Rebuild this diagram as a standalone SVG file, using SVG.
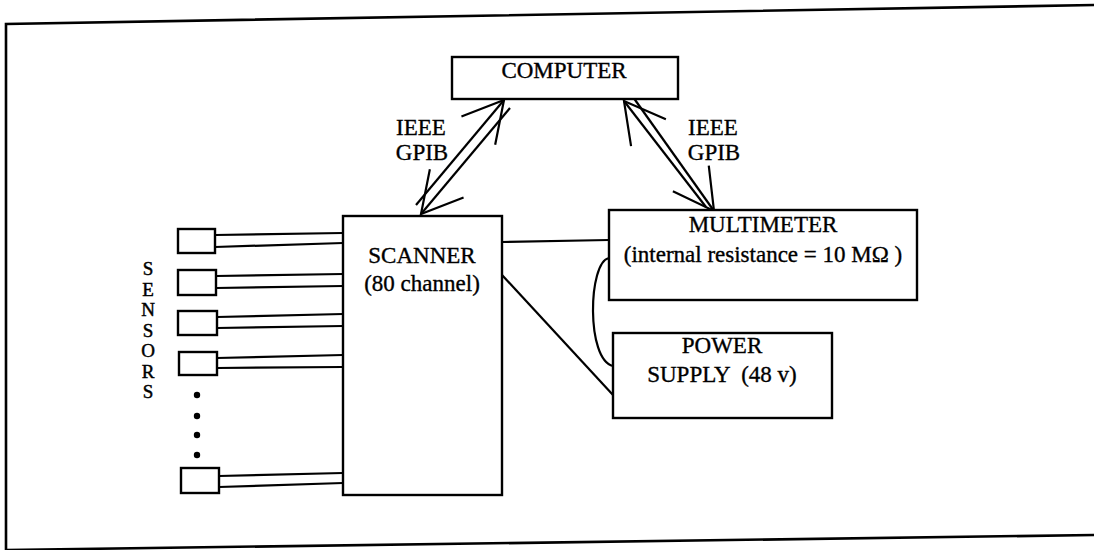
<svg xmlns="http://www.w3.org/2000/svg" width="1094" height="550" viewBox="0 0 1094 550">
<style>
.box{fill:#fff;stroke:#000;stroke-width:2.4}
.ln{fill:none;stroke:#000;stroke-width:2.2}
.frame{fill:none;stroke:#000;stroke-width:2.6}
.t{font-family:"Liberation Serif","Times New Roman",serif;font-size:23px;fill:#000;stroke:#000;stroke-width:0.35;text-anchor:middle}
.s{font-family:"Liberation Serif","Times New Roman",serif;font-size:19px;fill:#000;stroke:#000;stroke-width:0.45;text-anchor:middle}
</style>
<defs>
<marker id="ah" markerUnits="userSpaceOnUse" viewBox="-50 -30 60 60" refX="0" refY="0" markerWidth="60" markerHeight="60" orient="auto" overflow="visible">
<path d="M-40,-22 L0,0 L-40,22" fill="none" stroke="#000" stroke-width="2.2"/>
</marker>
</defs>
<rect width="1094" height="550" fill="#fff"/>
<g id="frame">
<polyline class="frame" points="1094,5 6,24 6,550"/>
<line class="frame" x1="6" y1="550" x2="1094" y2="535"/>
</g>
<g id="connectors">
<line class="ln" x1="416" y1="205" x2="504" y2="100" marker-end="url(#ah)"/>
<line class="ln" x1="510" y1="108" x2="421" y2="214" marker-end="url(#ah)"/>
<line class="ln" x1="706" y1="207" x2="624" y2="101" marker-end="url(#ah)"/>
<line class="ln" x1="633" y1="97" x2="714" y2="211" marker-end="url(#ah)"/>
<line class="ln" x1="502" y1="242" x2="609" y2="240"/>
<line class="ln" x1="502" y1="275" x2="613" y2="395"/>
<path class="ln" d="M609,258 C588,262 586,360 613,366"/>
<line class="ln" x1="215" y1="235" x2="343" y2="233"/>
<line class="ln" x1="215" y1="247" x2="343" y2="243"/>
<line class="ln" x1="216" y1="276" x2="343" y2="274"/>
<line class="ln" x1="216" y1="288" x2="343" y2="286"/>
<line class="ln" x1="217" y1="317" x2="343" y2="314"/>
<line class="ln" x1="217" y1="328" x2="343" y2="326"/>
<line class="ln" x1="217" y1="358" x2="343" y2="355"/>
<line class="ln" x1="217" y1="368" x2="343" y2="367"/>
<line class="ln" x1="219" y1="476" x2="343" y2="473"/>
<line class="ln" x1="219" y1="487" x2="343" y2="483"/>
</g>
<g id="labels">
<text class="t" x="421" y="135">IEEE</text>
<text class="t" x="422" y="160">GPIB</text>
<text class="t" x="713" y="135">IEEE</text>
<text class="t" x="714" y="160">GPIB</text>
</g>
<g id="computer">
<rect class="box" x="452" y="57" width="226" height="42"/>
<text class="t" x="564" y="78">COMPUTER</text>
</g>
<g id="scanner">
<rect class="box" x="343" y="216" width="159" height="279"/>
<text class="t" x="422" y="263">SCANNER</text>
<text class="t" x="422" y="291">(80 channel)</text>
</g>
<g id="multimeter">
<rect class="box" x="609" y="210" width="308" height="90"/>
<text class="t" x="763" y="232">MULTIMETER</text>
<text class="t" x="763" y="262">(internal resistance = 10 MΩ )</text>
</g>
<g id="power">
<rect class="box" x="613" y="333" width="219" height="85"/>
<text class="t" x="722" y="353">POWER</text>
<text class="t" x="722" y="382" xml:space="preserve">SUPPLY  (48 v)</text>
</g>
<g id="sensors">
<rect class="box" x="178" y="229" width="37" height="24"/>
<rect class="box" x="178" y="270" width="38" height="25"/>
<rect class="box" x="178" y="311" width="39" height="24"/>
<rect class="box" x="179" y="352" width="38" height="23"/>
<rect class="box" x="181" y="468" width="38" height="25"/>
<circle cx="197" cy="395" r="3.2"/>
<circle cx="197" cy="416" r="3.2"/>
<circle cx="197" cy="435" r="3.2"/>
<circle cx="197" cy="455" r="3.2"/>
<text class="s" x="148" y="275">S</text>
<text class="s" x="148" y="296">E</text>
<text class="s" x="148" y="316">N</text>
<text class="s" x="148" y="337">S</text>
<text class="s" x="148" y="357">O</text>
<text class="s" x="148" y="378">R</text>
<text class="s" x="148" y="398">S</text>
</g>
</svg>
